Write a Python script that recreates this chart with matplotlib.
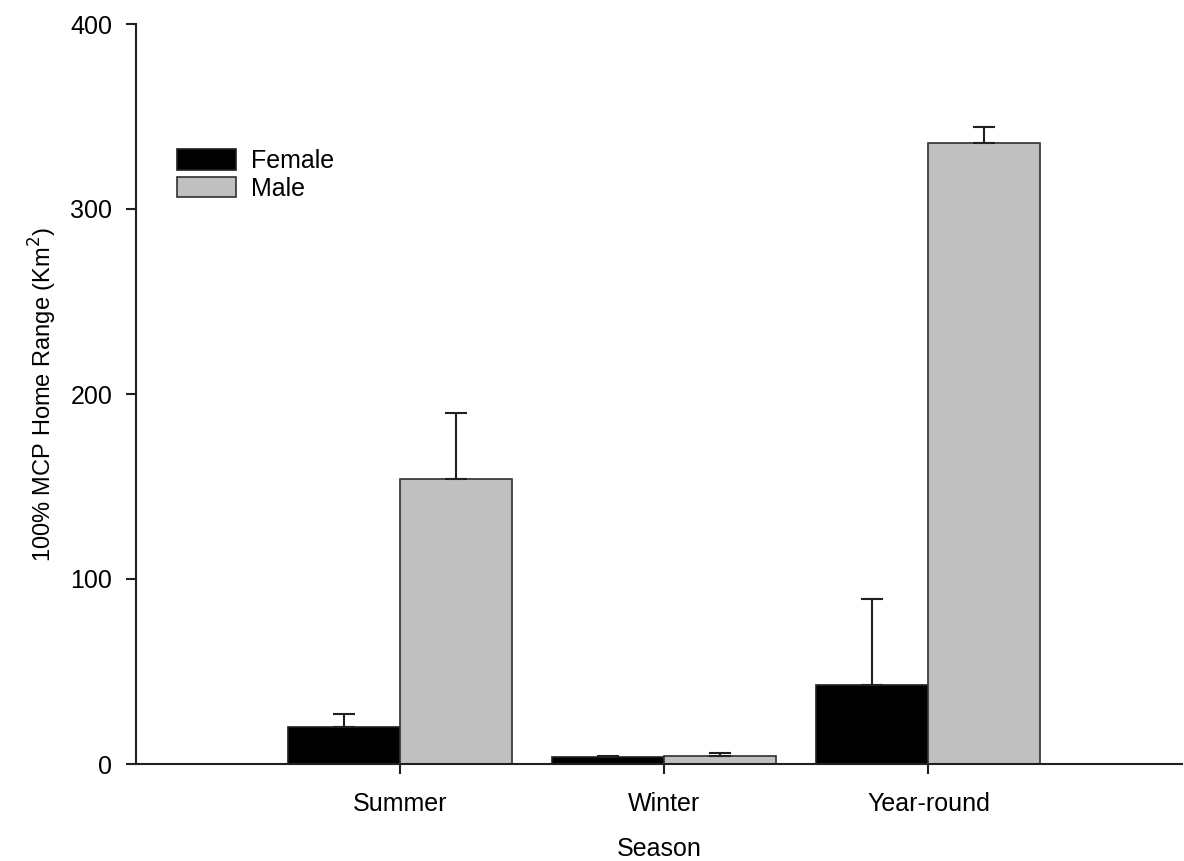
import matplotlib
matplotlib.use("Agg")
import matplotlib.pyplot as plt
import numpy as np

plt.rcParams['font.family'] = ['Liberation Sans', 'DejaVu Sans']

seasons = ["Summer", "Winter", "Year-round"]
female_mean = [20.2, 3.6, 42.7]
female_se = [7.0, 0.9, 46.5]
male_mean = [153.9, 4.2, 335.5]
male_se = [36.0, 1.7, 9.0]

x = np.arange(1, len(seasons) + 1)
w = 0.424

fig = plt.figure(figsize=(11.84, 8.61), dpi=100)
ax = fig.add_axes([136 / 1184, 1 - 764 / 861, 1046 / 1184, 740 / 861])

ax.bar(x - w / 2, female_mean, w, color="black", edgecolor="#202020",
       linewidth=1.2, label="Female", zorder=2)
ax.bar(x + w / 2, male_mean, w, color="#c0c0c0", edgecolor="#303030",
       linewidth=1.2, label="Male", zorder=2)

zeros = np.zeros(len(x))
ax.errorbar(x - w / 2, female_mean, yerr=[zeros, female_se], fmt="none",
            ecolor="#202020", elinewidth=1.5, capsize=8, capthick=1.5, zorder=3)
ax.errorbar(x + w / 2, male_mean, yerr=[zeros, male_se], fmt="none",
            ecolor="#202020", elinewidth=1.5, capsize=8, capthick=1.5, zorder=3)

ax.set_xlim(0, 3.96)
ax.set_ylim(0, 400)
ax.set_yticks([0, 100, 200, 300, 400])
ax.set_xticks(x)
ax.set_xticklabels(seasons)

for s in ["top", "right"]:
    ax.spines[s].set_visible(False)
for s in ["left", "bottom"]:
    ax.spines[s].set_linewidth(1.5)
    ax.spines[s].set_color("#202020")

ax.tick_params(axis="both", direction="out", length=7, width=1.5,
               color="#202020", labelsize=18, pad=10)
ax.tick_params(axis="x", pad=13)

ax.set_xlabel("Season", fontsize=18, labelpad=15)
ax.set_ylabel("100% MCP Home Range (Km$^{2}$)", fontsize=17, labelpad=8)

leg = ax.legend(loc="upper left", bbox_to_anchor=(177 / 1184, 1 - 149 / 861),
                bbox_transform=fig.transFigure, frameon=False, fontsize=18,
                handlelength=2.36, handleheight=0.88, handletextpad=0.6,
                labelspacing=0.15, borderpad=0, borderaxespad=0)

plt.savefig("out.png", dpi=100)
plt.close()
